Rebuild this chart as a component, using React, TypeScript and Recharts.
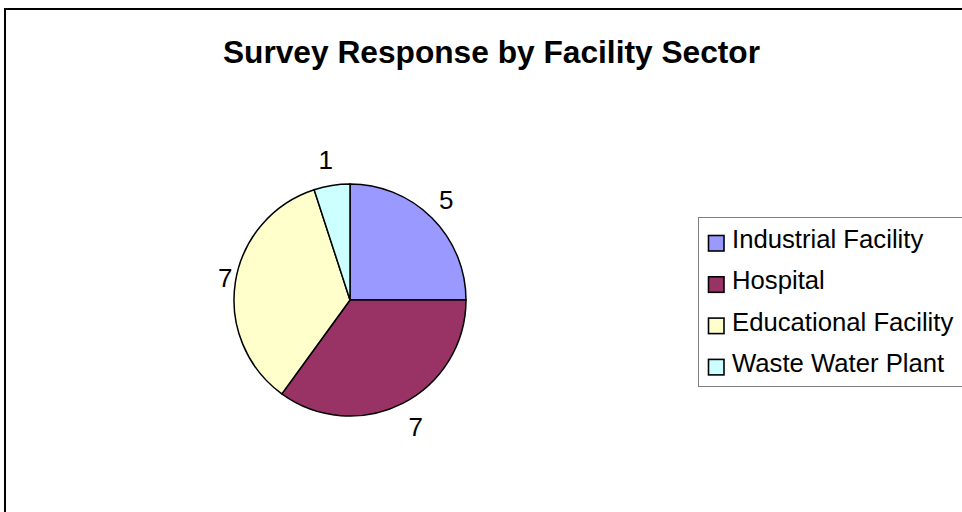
import { PieChart, Pie, Cell, Legend } from 'recharts'

const categories = ['Industrial Facility', 'Hospital', 'Educational Facility', 'Waste Water Plant']
const responses = [5, 7, 7, 1]
const sliceColors = ['#9999FF', '#993366', '#FFFFCC', '#CCFFFF']

const chartData = categories.map((name, i) => ({ name, value: responses[i] }))

const FONT = '"Liberation Sans", Arial, sans-serif'
const RADIAN = Math.PI / 180

const renderLabel = (props: any) => {
  const { cx, cy, midAngle, outerRadius, value } = props
  const cos = Math.cos(-midAngle * RADIAN)
  const sin = Math.sin(-midAngle * RADIAN)
  // Excel-ish placement: side labels sit closer to the pie than the top/bottom ones
  const rx = outerRadius + 44 - 34 * Math.abs(cos)
  const ry = outerRadius + 26
  const x = cx + rx * cos
  const y = cy + ry * sin
  return (
    <text x={x} y={y} textAnchor="middle" dominantBaseline="central" fontFamily={FONT} fontSize={26} fill="#000">
      {value}
    </text>
  )
}

const renderLegend = (props: any) => {
  // keep the data order, not the alphabetical one
  const payload = [...(props.payload || [])].sort(
    (a: any, b: any) => categories.indexOf(a.value) - categories.indexOf(b.value)
  )
  return (
    <div style={{ width: 300, height: 170, border: '1px solid #808080', boxSizing: 'border-box', background: '#fff' }}>
      <svg width={300} height={168}>
        {payload.map((entry: any, i: number) => (
          <g key={`item-${i}`}>
            <rect x={9.5} y={17.5 + i * 41.3} width={15.5} height={15.5} fill={entry.color || sliceColors[i]} stroke="#000" strokeWidth={1.6} />
            <text x={33} y={30 + i * 41.3} fontFamily={FONT} fontSize={25.7} fill="#000">
              {entry.value}
            </text>
          </g>
        ))}
      </svg>
    </div>
  )
}

export default function App() {
  return (
    <div style={{ position: 'absolute', left: 0, top: 0, width: 962, height: 512, overflow: 'hidden', background: '#fff' }}>
      <div style={{ position: 'absolute', left: 4, top: 8, width: 1000, height: 600, border: '2px solid #000' }} />
      <svg style={{ position: 'absolute', left: 0, top: 0 }} width={962} height={100}>
        <text x={491.5} y={63} textAnchor="middle" fontFamily={FONT} fontWeight="bold" fontSize={31.7} fill="#000">
          Survey Response by Facility Sector
        </text>
      </svg>
      <div style={{ position: 'absolute', left: 0, top: 0 }}>
        <PieChart width={962} height={512} margin={{ top: 0, right: 0, bottom: 0, left: 0 }}>
          <Pie
            data={chartData}
            dataKey="value"
            nameKey="name"
            cx={350}
            cy={300}
            outerRadius={116}
            startAngle={90}
            endAngle={-270}
            stroke="#000"
            strokeWidth={1.5}
            label={renderLabel}
            labelLine={false}
            isAnimationActive={false}
          >
            {chartData.map((entry, index) => (
              <Cell key={`cell-${index}`} fill={sliceColors[index]} />
            ))}
          </Pie>
          <Legend
            content={renderLegend}
            wrapperStyle={{ position: 'absolute', left: 698, top: 217, width: 300, height: 170 }}
          />
        </PieChart>
      </div>
    </div>
  )
}
